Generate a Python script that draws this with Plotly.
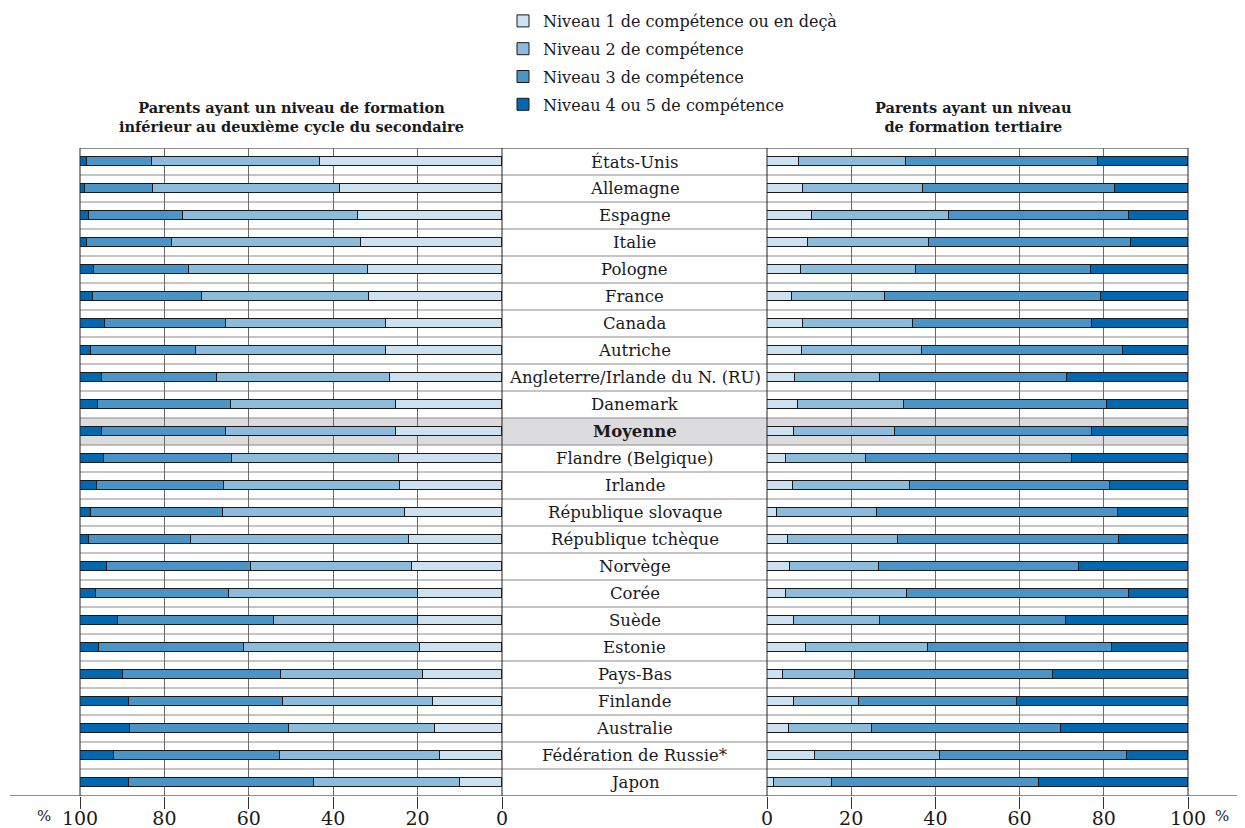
import plotly.graph_objects as go

# %%
pays = ["États-Unis", "Allemagne", "Espagne", "Italie", "Pologne", "France", "Canada",
        "Autriche", "Angleterre/Irlande du N. (RU)", "Danemark", "Moyenne",
        "Flandre (Belgique)", "Irlande", "République slovaque", "République tchèque",
        "Norvège", "Corée", "Suède", "Estonie", "Pays-Bas", "Finlande", "Australie",
        "Fédération de Russie*", "Japon"]

niveaux = ["Niveau 1 de compétence ou en deçà", "Niveau 2 de compétence",
           "Niveau 3 de compétence", "Niveau 4 ou 5 de compétence"]

# parents ayant un niveau inférieur au deuxième cycle du secondaire (%)
bas_n1 = [43.1, 38.5, 34.2, 33.4, 31.8, 31.5, 27.5, 27.4, 26.6, 25.2, 25.2,
          24.3, 24.1, 22.9, 22.1, 21.3, 20.0, 19.8, 19.4, 18.7, 16.4, 15.8, 14.8, 9.9]
bas_n2 = [39.9, 44.3, 41.5, 44.9, 42.3, 39.7, 37.8, 45.0, 41.0, 39.1, 40.3,
          39.6, 41.7, 43.3, 51.5, 38.1, 44.6, 34.2, 41.8, 33.6, 35.4, 34.6, 37.8, 34.6]
bas_n3 = [15.4, 15.9, 22.1, 20.0, 22.7, 25.7, 28.8, 25.1, 27.1, 31.4, 29.3,
          30.5, 30.1, 31.3, 24.3, 34.2, 31.7, 37.1, 34.4, 37.4, 36.5, 37.7, 39.3, 43.8]
bas_n4 = [1.6, 1.3, 2.2, 1.7, 3.2, 3.1, 5.9, 2.5, 5.3, 4.3, 5.2,
          5.6, 4.1, 2.5, 2.1, 6.4, 3.7, 8.9, 4.4, 10.3, 11.7, 11.9, 8.1, 11.7]

# parents ayant un niveau de formation tertiaire (%)
tert_n1 = [7.7, 8.5, 10.7, 9.8, 8.1, 6.0, 8.6, 8.3, 6.7, 7.4, 6.4,
           4.4, 6.2, 2.3, 5.0, 5.5, 4.6, 6.3, 9.3, 3.7, 6.4, 5.3, 11.3, 1.7]
tert_n2 = [25.3, 28.6, 32.5, 28.7, 27.4, 22.1, 26.0, 28.5, 20.2, 25.2, 24.0,
           19.0, 27.8, 23.8, 26.1, 21.0, 28.6, 20.5, 29.0, 17.2, 15.5, 19.6, 29.9, 13.7]
tert_n3 = [45.7, 45.6, 42.9, 48.0, 41.5, 51.2, 42.7, 47.8, 44.3, 48.1, 46.9,
           49.1, 47.5, 57.3, 52.4, 47.5, 52.9, 44.2, 43.6, 47.1, 37.4, 45.0, 44.4, 49.2]
tert_n4 = [21.3, 17.3, 13.9, 13.5, 23.0, 20.7, 22.7, 15.4, 28.8, 19.3, 22.7,
           27.5, 18.5, 16.6, 16.5, 26.0, 13.9, 29.0, 18.1, 32.0, 40.7, 30.1, 14.4, 35.4]

couleurs = ["#cde1f0", "#8dbbdc", "#4a94c8", "#0067b1"]
police = "DejaVu Serif"

# %%
# la page ajoute une marge de 8 px autour de la figure
OFF = 8
W, H = 1245 - OFF, 828 - OFF
X0, X1, Y0, Y1 = 10, 1240, 148, 796   # zone de tracé en pixels de la page
ML, MR, MT, MB = X0 - OFF, W - (X1 - OFF), Y0 - OFF, H - (Y1 - OFF)
pw = X1 - X0
ph = Y1 - Y0


def px(x):
    return (x - X0) / pw


def py(y):
    return 1 + (Y0 - y) / ph


gauche = [px(80), px(502)]
droite = [px(767), px(1188)]

fig = go.Figure()

for i, (nom, coul) in enumerate(zip(niveaux, couleurs)):
    fig.add_trace(go.Bar(
        y=pays, x=[bas_n1, bas_n2, bas_n3, bas_n4][i], orientation="h",
        marker=dict(color=coul, line=dict(color="#1a1a1a", width=1)),
        width=0.34, name=nom, legendgroup=nom, xaxis="x", yaxis="y"))
    fig.add_trace(go.Bar(
        y=pays, x=[tert_n1, tert_n2, tert_n3, tert_n4][i], orientation="h",
        marker=dict(color=coul, line=dict(color="#1a1a1a", width=1)),
        width=0.34, name=nom, legendgroup=nom, showlegend=False, xaxis="x2", yaxis="y"))

# lignes horizontales du tableau
shapes = [dict(type="rect", xref="paper", yref="y", x0=gauche[0], x1=droite[1],
               y0=9.5, y1=10.5, fillcolor="#dcdcde", line_width=0, layer="below")]
for k in range(24):
    shapes.append(dict(type="line", xref="paper", yref="y", x0=gauche[0], x1=droite[1],
                       y0=k - 0.5, y1=k - 0.5, layer="below",
                       line=dict(color="#222" if k == 0 else "#8a8a8a", width=1)))
shapes.append(dict(type="line", xref="paper", yref="y", x0=0, x1=1,
                   y0=23.5, y1=23.5, line=dict(color="#222", width=1.2)))
for xx in [gauche[0], gauche[1], droite[0], droite[1]]:
    shapes.append(dict(type="line", xref="paper", yref="y", x0=xx, x1=xx,
                       y0=-0.5, y1=23.5, line=dict(color="#222", width=1)))

annotations = []
for p in pays:
    txt = "<b>" + p + "</b>" if p == "Moyenne" else p
    annotations.append(dict(x=px(634.5), xref="paper", y=p, yref="y", text=txt,
                            xanchor="center", yanchor="middle", showarrow=False,
                            font=dict(size=16.5, color="#1a1a1a", family=police)))

texte = dict(xref="paper", yref="paper", xanchor="center", yanchor="middle", showarrow=False)
annotations += [
    dict(texte, x=px(291), y=py(117),
         text="<b>Parents ayant un niveau de formation<br>inférieur au deuxième cycle du secondaire</b>",
         font=dict(size=14.5, color="#1a1a1a", family=police)),
    dict(texte, x=px(973), y=py(117),
         text="<b>Parents ayant un niveau<br>de formation tertiaire</b>",
         font=dict(size=14.5, color="#1a1a1a", family=police)),
    dict(texte, x=px(44), y=py(816), text="%",
         font=dict(size=15, color="#1a1a1a", family=police)),
    dict(texte, x=px(1222), y=py(816), text="%",
         font=dict(size=15, color="#1a1a1a", family=police)),
]

axe = dict(range=[0, 100], dtick=20, showgrid=True, gridcolor="#6a6a6a", gridwidth=1,
           zeroline=False, ticks="outside", ticklen=12, tickcolor="#333",
           ticklabelstandoff=-7,
           showline=False, tickfont=dict(size=19, color="#1a1a1a", family=police),
           fixedrange=True, automargin=False)

fig.update_layout(
    width=W, height=H,
    margin=dict(l=ML, r=MR, t=MT, b=MB, autoexpand=False),
    barmode="stack", bargap=0,
    paper_bgcolor="white", plot_bgcolor="rgba(0,0,0,0)",
    font=dict(family=police, color="#1a1a1a"),
    xaxis=dict(axe, domain=gauche, range=[100, 0], anchor="y"),
    xaxis2=dict(axe, domain=droite, anchor="y"),
    yaxis=dict(range=[23.5, -0.5], showticklabels=False, showgrid=False,
               zeroline=False, fixedrange=True),
    shapes=shapes,
    annotations=annotations,
    legend=dict(x=px(503), y=py(4), xanchor="left", yanchor="top",
                traceorder="grouped", tracegroupgap=4, bgcolor="rgba(0,0,0,0)",
                font=dict(size=16, color="#1a1a1a", family=police)),
)

fig.write_html("out.html")
